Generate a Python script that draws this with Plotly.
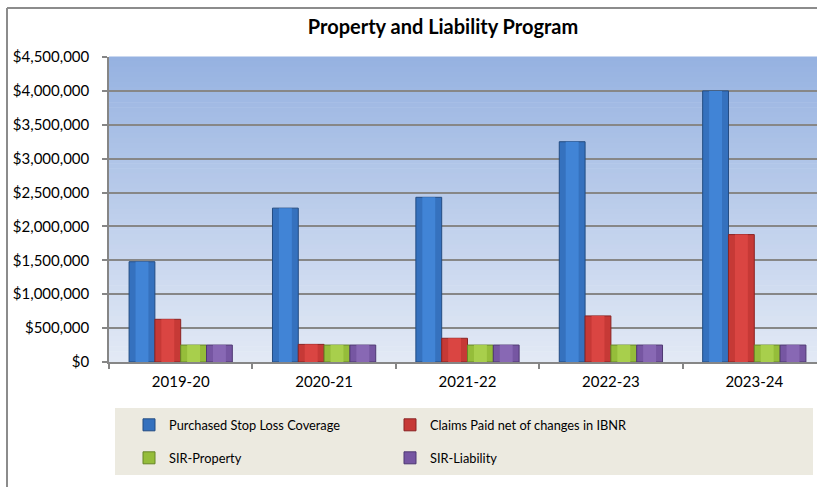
import plotly.graph_objects as go

# ---- data ----
years = ["2019-20", "2020-21", "2021-22", "2022-23", "2023-24"]
stop_loss = [1480000, 2270000, 2430000, 3250000, 4000000]
claims_paid = [630000, 260000, 350000, 680000, 1880000]
sir_property = [250000, 250000, 250000, 250000, 250000]
sir_liability = [250000, 250000, 250000, 250000, 250000]

series_names = ["Purchased Stop Loss Coverage", "Claims Paid net of changes in IBNR",
                "SIR-Property", "SIR-Liability"]
series_values = [stop_loss, claims_paid, sir_property, sir_liability]
series_colors = ["#3571BE", "#C63936", "#95BD3A", "#7656A2"]
series_light = ["#4184D6", "#DA4542", "#A8CF4C", "#8868B4"]
series_lines = ["#234C82", "#8A2423", "#678627", "#4E3872"]
series_legend = ["legend", "legend", "legend2", "legend2"]

W, H = 817, 487
PL, PR, PT, PB = 109, 817, 57, 362  # plot area in pixels

GROUP = 0.72          # fraction of a category occupied by the 4 bars
BW = GROUP / 4

fig = go.Figure()
for i, (name, vals, col, light, lcol, lg) in enumerate(zip(
        series_names, series_values, series_colors, series_light,
        series_lines, series_legend)):
    off = -GROUP / 2 + BW * i
    fig.add_trace(go.Bar(
        x=years, y=vals, name=name, legend=lg, width=BW, offset=off,
        marker=dict(color=col, line=dict(color=lcol, width=1)),
    ))
    fig.add_trace(go.Bar(
        x=years, y=vals, name=name, showlegend=False, width=BW * 0.5,
        offset=off + BW * 0.25, hoverinfo="skip",
        marker=dict(color=light, line=dict(width=0)),
    ))

def px_x(p):
    return (p - PL) / (PR - PL)

def px_y(p):
    return (PB - p) / (PB - PT)

shapes = []
# gradient plot background
n = 60
top = (150, 178, 225)
bot = (226, 233, 245)
for i in range(n):
    t = i / (n - 1)
    c = tuple(round(top[k] + (bot[k] - top[k]) * t) for k in range(3))
    y1 = 1 - i / n
    y0 = 1 - (i + 1) / n
    shapes.append(dict(type="rect", xref="paper", yref="paper", x0=0, x1=1,
                       y0=y0, y1=y1 + 0.002, layer="below",
                       fillcolor="rgb(%d,%d,%d)" % c, line=dict(width=0)))
# legend background box
shapes.append(dict(type="rect", xref="paper", yref="paper",
                   x0=px_x(115), x1=px_x(813), y0=px_y(475), y1=px_y(408),
                   layer="below", fillcolor="#ECEAE0", line=dict(width=0)))
# outer chart border (top and left edges visible)
shapes.append(dict(type="line", xref="paper", yref="paper",
                   x0=px_x(7), x1=px_x(830), y0=px_y(8), y1=px_y(8),
                   layer="below", line=dict(color="#8C8C8C", width=2)))
shapes.append(dict(type="line", xref="paper", yref="paper",
                   x0=px_x(7), x1=px_x(7), y0=px_y(8), y1=px_y(500),
                   layer="below", line=dict(color="#8C8C8C", width=2)))

FONT = "Lato, 'Open Sans', sans-serif"

fig.update_layout(
    width=W, height=H,
    margin=dict(l=PL, r=W - PR, t=PT, b=H - PB, pad=0),
    paper_bgcolor="white",
    plot_bgcolor="rgba(0,0,0,0)",
    barmode="overlay",
    font=dict(family=FONT, size=15, color="#000000"),
    title=dict(text="<b>Property and Liability Program</b>",
               x=443 / W, y=1 - 27 / H, xref="container", yref="container",
               xanchor="center", yanchor="middle",
               font=dict(family=FONT, size=20, color="#000000")),
    xaxis=dict(range=[-0.5, 4.5 - 9 / 143.5], showline=True, linecolor="#868686",
               linewidth=1.5, ticks="outside", tickson="boundaries", ticklen=5,
               tickcolor="#868686", tickwidth=1.5, showgrid=False,
               ticklabelstandoff=5,
               tickfont=dict(size=15), fixedrange=True),
    yaxis=dict(range=[0, 4500000], dtick=500000, tickformat="$,.0f",
               showline=True, linecolor="#868686", linewidth=1.5,
               ticks="outside", ticklen=5, tickcolor="#868686", tickwidth=1.5,
               showgrid=True, gridcolor="#878787", gridwidth=2,
               zeroline=False, ticklabelstandoff=10,
               tickfont=dict(size=15)),
    legend=dict(orientation="h", xref="container", yref="container",
                x=129 / W, y=1 - 425 / H, xanchor="left", yanchor="middle",
                entrywidth=216, entrywidthmode="pixels",
                bgcolor="rgba(0,0,0,0)", font=dict(size=12.8), traceorder="normal"),
    legend2=dict(orientation="h", xref="container", yref="container",
                 x=129 / W, y=1 - 458 / H, xanchor="left", yanchor="middle",
                 entrywidth=216, entrywidthmode="pixels",
                 bgcolor="rgba(0,0,0,0)", font=dict(size=12.8), traceorder="normal"),
    shapes=shapes,
    showlegend=True,
)

fig.write_html(
    "out.html",
    config={"displayModeBar": False},
    post_script="document.body.style.margin='0px';document.body.style.overflow='hidden';",
)
